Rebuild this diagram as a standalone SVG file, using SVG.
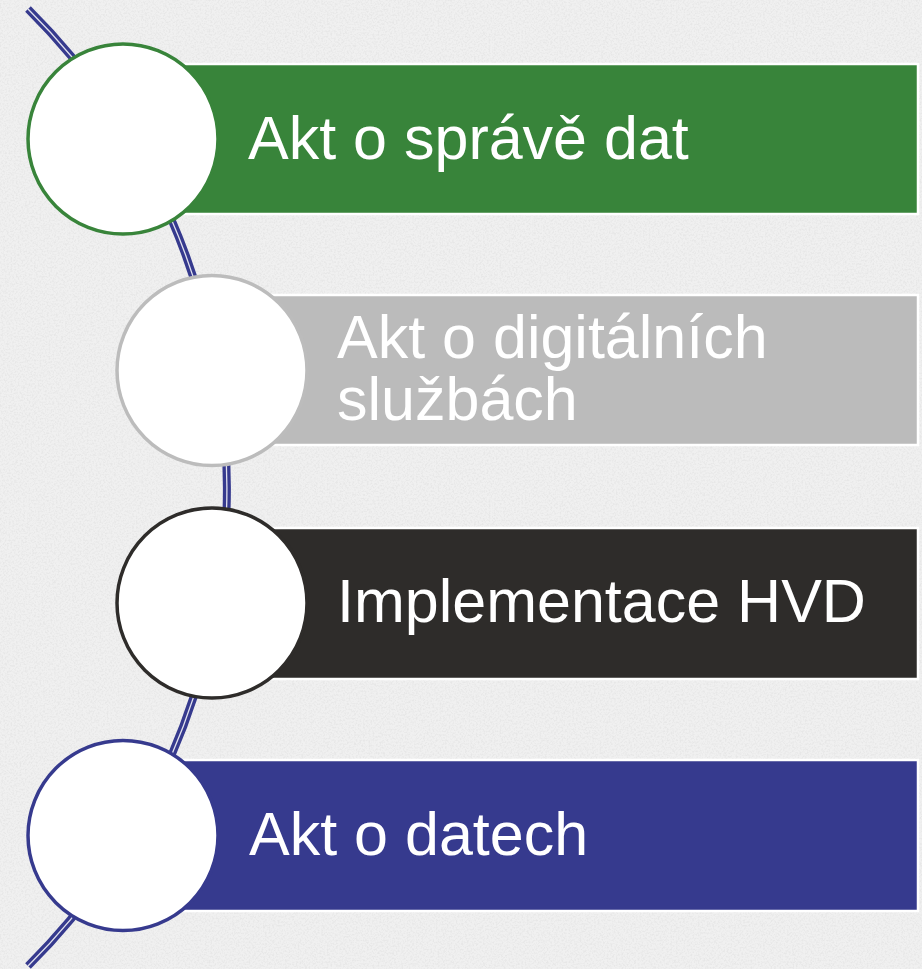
<svg xmlns="http://www.w3.org/2000/svg" width="922" height="969" viewBox="0 0 922 969">
<defs>
<filter id="noise" x="0" y="0" width="100%" height="100%">
<feTurbulence type="fractalNoise" baseFrequency="0.55" numOctaves="3" seed="5" result="n"/>
<feColorMatrix in="n" type="matrix" values="0 0 0 0 0.8  0 0 0 0 0.8  0 0 0 0 0.8  0 0 0 -3 1.75" result="w"/>
<feComposite in="w" in2="SourceGraphic" operator="in"/>
</filter>
<style>
.lbl{font-family:"Liberation Sans",Arial,sans-serif;font-size:61px;fill:#ffffff}
.box{stroke:#ffffff;stroke-width:2.5}
.dot{fill:#ffffff;stroke-width:3.5}
</style>
</defs>
<rect x="0" y="0" width="922" height="969" fill="#f0f0f0"/>
<rect x="0" y="0" width="922" height="969" fill="#f0f0f0" filter="url(#noise)"/>
<g id="connectors">
<path d="M 28 9 A 675 675 0 0 1 28 966" fill="none" stroke="#363a8e" stroke-width="8"/>
<path d="M 28 9 A 675 675 0 0 1 28 966" fill="none" stroke="#ffffff" stroke-width="1.3" opacity="0.85"/>
</g>
<g id="node1">
<rect class="box" x="123" y="64" width="795" height="150" fill="#38843a"/>
<circle class="dot" cx="123" cy="139" r="95" stroke="#38843a"/>
<text class="lbl" x="248" y="159">Akt o správě dat</text>
</g>
<g id="node2">
<rect class="box" x="212" y="295" width="706" height="150" fill="#bbbbbb"/>
<circle class="dot" cx="212" cy="370.5" r="95" stroke="#bcbcbc"/>
<text class="lbl" x="337" y="358">Akt o digitálních</text>
<text class="lbl" x="337" y="420">službách</text>
</g>
<g id="node3">
<rect class="box" x="212" y="528" width="706" height="151" fill="#2e2c2a"/>
<circle class="dot" cx="212" cy="603" r="95" stroke="#2e2c2a"/>
<text class="lbl" x="337" y="622">Implementace HVD</text>
</g>
<g id="node4">
<rect class="box" x="123" y="760" width="795" height="151" fill="#363a8e"/>
<circle class="dot" cx="123" cy="835.5" r="95" stroke="#363a8e"/>
<text class="lbl" x="249" y="855">Akt o datech</text>
</g>
</svg>
